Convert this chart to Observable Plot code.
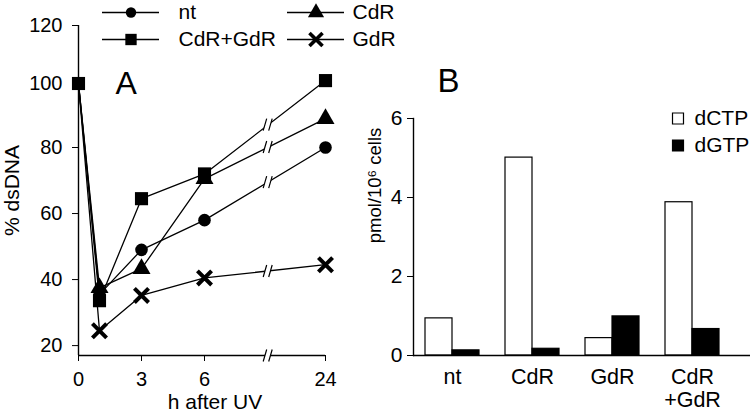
<!DOCTYPE html>
<html><head><meta charset="utf-8">
<script src="https://cdn.jsdelivr.net/npm/d3@7"></script>
<script src="https://cdn.jsdelivr.net/npm/@observablehq/plot@0.6"></script>
<style>
html,body{margin:0;padding:0;background:#fff;}
#root{position:relative;width:752px;height:413px;overflow:hidden;font-family:"Liberation Sans",Arial,sans-serif;}
#root svg{position:absolute;}
</style></head><body><div id="root"></div>
<script>
// ---------- Panel A data ----------
const hours = [0, 1, 3, 6, 24];
const hourTicks = [0, 3, 6, 24];
const ntValues = [100, 35.5, 49, 58, 80];
const cdrValues = [100, 37.5, 43.3, 70.5, 89];
const gdrValues = [100, 24.5, 35.2, 40.5, 44.5];
const cdrGdrValues = [100, 33.6, 64.5, 72, 101];
const seriesNames = ["GdR", "CdR", "nt", "CdR+GdR"];
const seriesSymbols = ["times", "triangle", "circle", "square"];
const legendOrder = ["nt", "CdR", "CdR+GdR", "GdR"];
const dsTicks = [20, 40, 60, 80, 100, 120];

// ---------- Panel B data ----------
const categories = ["nt", "CdR", "GdR", "CdR\n+GdR"];
const dCTP = [0.94, 5.01, 0.44, 3.88];
const dGTP = [0.13, 0.17, 0.99, 0.67];
const poolNames = ["dCTP", "dGTP"];
const poolTicks = [0, 2, 4, 6];

const font = '"Liberation Sans", Arial, sans-serif';
const baseStyle = {fontFamily: font, fontSize: "20px", color: "black", background: "transparent", overflow: "visible"};

const valuesByName = {"nt": ntValues, "CdR": cdrValues, "GdR": gdrValues, "CdR+GdR": cdrGdrValues};
const symbolByName = {};
seriesNames.forEach((s, i) => symbolByName[s] = seriesSymbols[i]);

const lineData = seriesNames.flatMap(s => hours.map((h, j) => ({series: s, h, v: valuesByName[s][j]})));
const yMin = 17;
const breakHour = 15.4;
const breakData = seriesNames.map(s => {
  const v = valuesByName[s];
  const t = (breakHour - hours[3]) / (hours[4] - hours[3]);
  return {h: breakHour, v: v[3] + (v[4] - v[3]) * t};
}).concat([{h: breakHour, v: yMin}]);

const gapSymbol = {draw(ctx) {ctx.moveTo(-4.5, 6); ctx.lineTo(-1, -6); ctx.lineTo(4.5, -6); ctx.lineTo(1, 6); ctx.closePath();}};
const slashSymbol = {draw(ctx) {ctx.moveTo(-4.5, 6); ctx.lineTo(-1, -6); ctx.moveTo(1, 6); ctx.lineTo(4.5, -6);}};

const markerStyle = {
  circle: {r: 6.3, fill: "black", stroke: "none"},
  triangle: {r: 6.7, fill: "black", stroke: "none"},
  square: {r: 7.4, fill: "black", stroke: "none"},
  times: {r: 6.5, fill: "none", stroke: "black", strokeWidth: 4}
};
const legendStyle = {
  circle: {r: 5.2, fill: "black", stroke: "none"},
  triangle: {r: 6, fill: "black", stroke: "none"},
  square: {r: 6.4, fill: "black", stroke: "none"},
  times: {r: 6, fill: "none", stroke: "black", strokeWidth: 3.6}
};

// all series share the 100 % start point; only the top-most marker shows there
const topSeries = seriesNames[seriesNames.length - 1];
const markerMarks = seriesNames.map(s =>
  Plot.dot(lineData.filter(d => d.series === s && (d.h !== hours[0] || s === topSeries)),
    {x: "h", y: "v", symbol: symbolByName[s], ...markerStyle[symbolByName[s]]})
);

const plotA = Plot.plot({
  width: 380, height: 413,
  marginLeft: 78, marginRight: 55, marginTop: 25, marginBottom: 58,
  style: baseStyle,
  x: {type: "linear", domain: [0, 6, 24], range: [78, 204, 325]},
  y: {type: "linear", domain: [yMin, 80, 100, 120], range: [355, 147, 83, 25]},
  marks: [
    Plot.ruleY([yMin], {x1: 0, x2: 24, strokeWidth: 1.4}),
    Plot.ruleX([0], {y1: yMin, y2: 120, strokeWidth: 1.4}),
    Plot.axisY({ticks: dsTicks, tickSize: 6, tickPadding: 10, fontSize: 20, label: null}),
    Plot.axisX({ticks: hourTicks, tickSize: 6, tickPadding: 10, fontSize: 20, label: null}),
    Plot.line(lineData, {x: "h", y: "v", z: "series", stroke: "black", strokeWidth: 1.3}),
    Plot.dot(breakData, {x: "h", y: "v", symbol: gapSymbol, fill: "white", stroke: "none", r: 5}),
    Plot.dot(breakData, {x: "h", y: "v", symbol: slashSymbol, fill: "none", stroke: "black", strokeWidth: 1.2, r: 5}),
    ...markerMarks,
    Plot.text(["A"], {frameAnchor: "top-left", dx: 37, dy: 58.5, textAnchor: "start", lineAnchor: "middle", fontSize: 32}),
    Plot.text(["% dsDNA"], {frameAnchor: "left", rotate: -90, textAnchor: "middle", dx: -66, dy: 0, fontSize: 21}),
    Plot.text(["h after UV"], {frameAnchor: "bottom", dx: 13, dy: 47, lineAnchor: "middle", fontSize: 21})
  ]
});

// ---------- Legend A ----------
const legendItems = legendOrder.map((name, i) => ({name, col: "c" + (i % 2), row: Math.floor(i / 2), sym: symbolByName[name]}));
const legendA = Plot.plot({
  width: 390, height: 52, margin: 0,
  style: baseStyle,
  x: {type: "band", domain: ["c0", "c1"], range: [102, 345], paddingInner: 0.69, paddingOuter: 0, axis: null},
  y: {domain: [0, 1], range: [12, 39], axis: null},
  marks: [
    Plot.tickY(legendItems, {x: "col", y: "row", strokeWidth: 1.3}),
    ...legendItems.map(d => Plot.dot([d], {x: "col", y: "row", symbol: d.sym, ...legendStyle[d.sym]})),
    Plot.text(legendItems.filter(d => d.col === "c0"), {x: "col", y: "row", text: "name", textAnchor: "start", dx: 47.5, fontSize: 21}),
    Plot.text(legendItems.filter(d => d.col === "c1"), {x: "col", y: "row", text: "name", textAnchor: "start", dx: 36.5, fontSize: 21})
  ]
});

// ---------- Panel B ----------
const barData = categories.map((c, i) => ({cat: c, dctp: dCTP[i], dgtp: dGTP[i]}));
const plotB = Plot.plot({
  width: 412, height: 413,
  marginLeft: 73, marginRight: 2, marginTop: 118, marginBottom: 58,
  style: baseStyle,
  x: {type: "band", domain: categories, range: [84, 380], paddingInner: 0.33, paddingOuter: 0},
  y: {domain: [0, 6]},
  marks: [
    Plot.barY(barData, {x: "cat", y: "dctp", fill: "white", stroke: "black", strokeWidth: 1.2, insetRight: 27}),
    Plot.barY(barData, {x: "cat", y: "dgtp", fill: "black", stroke: "black", strokeWidth: 1.2, insetLeft: 27}),
    Plot.ruleY([0], {strokeWidth: 1.4}),
    Plot.frame({anchor: "left", strokeWidth: 1.4}),
    Plot.axisY({ticks: poolTicks, tickFormat: d => String(d), tickSize: 6, tickPadding: 5, label: null, fontSize: 21}),
    Plot.axisX({tickSize: 0, tickPadding: 12, label: null, fontSize: 21.5, lineHeight: 1.08}),
    Plot.text(["B"], {frameAnchor: "top-left", dx: 24, dy: -37.5, textAnchor: "start", lineAnchor: "middle", fontSize: 33}),
    Plot.text(["pmol/10\u2076 cells"], {frameAnchor: "left", rotate: -90, textAnchor: "middle", dx: -38, dy: -51.5, fontSize: 18.5})
  ]
});

// ---------- Legend B ----------
const legendB = Plot.plot({
  width: 112, height: 60, margin: 0,
  style: baseStyle,
  y: {domain: [0, 1], range: [18, 45], axis: null},
  marks: [
    Plot.dot([poolNames[0]], {y: d => poolNames.indexOf(d), frameAnchor: "left", dx: 37.5, symbol: "square", r: 6.2, fill: "white", stroke: "black", strokeWidth: 1.2}),
    Plot.dot([poolNames[1]], {y: d => poolNames.indexOf(d), frameAnchor: "left", dx: 37.5, symbol: "square", r: 6.2, fill: "black", stroke: "black", strokeWidth: 1.2}),
    Plot.text(poolNames, {y: d => poolNames.indexOf(d), text: d => d, frameAnchor: "left", dx: 54, textAnchor: "start", fontSize: 21})
  ]
});

const root = document.getElementById("root");
[[plotA, 0, 0], [plotB, 340, 0], [legendA, 0, 0], [legendB, 640, 100]].forEach(([el, l, t]) => {
  el.style.position = "absolute";
  el.style.left = l + "px";
  el.style.top = t + "px";
  el.style.maxWidth = "none";
  root.appendChild(el);
});
</script></body></html>
